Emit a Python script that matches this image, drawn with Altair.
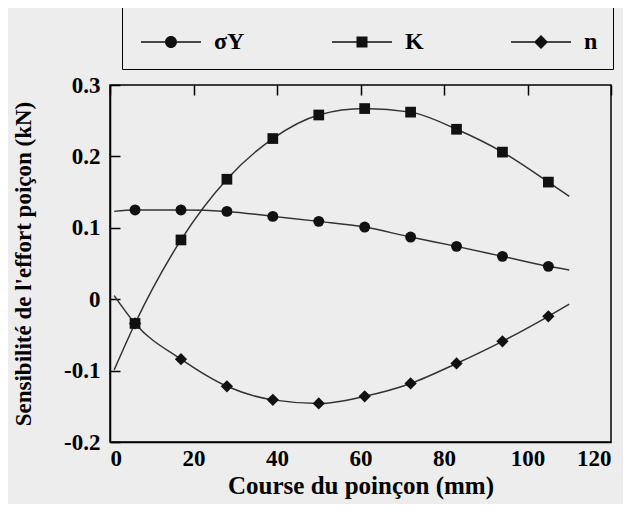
import altair as alt
import pandas as pd

# --- data ---
series_names = ["σY", "K", "n"]
series_shapes = ["circle", "square", "diamond"]
series_sizes = [120, 115, 150]
course_mm = [6, 17, 28, 39, 50, 61, 72, 83, 94, 105]
sigma_y = [0.125, 0.125, 0.123, 0.116, 0.109, 0.101, 0.087, 0.074, 0.060, 0.046]
k_vals = [-0.034, 0.083, 0.168, 0.225, 0.258, 0.267, 0.262, 0.238, 0.206, 0.164]
n_vals = [-0.034, -0.084, -0.122, -0.141, -0.146, -0.136, -0.118, -0.090, -0.059, -0.024]

# curve ends (lines extend beyond the markers)
line_start_x = 1
line_end_x = 110
sigma_ends = [0.123, 0.041]
k_ends = [-0.099, 0.144]
n_ends = [0.005, -0.007]

x_ticks = [0, 20, 40, 60, 80, 100, 120]
y_ticks = [-0.2, -0.1, 0, 0.1, 0.2, 0.3]

rows = []
for name, vals, ends in zip(series_names, [sigma_y, k_vals, n_vals], [sigma_ends, k_ends, n_ends]):
    rows.append({"course": line_start_x, "value": ends[0], "series": name, "marker": False})
    for c, v in zip(course_mm, vals):
        rows.append({"course": c, "value": v, "series": name, "marker": True})
    rows.append({"course": line_end_x, "value": ends[1], "series": name, "marker": False})
df = pd.DataFrame(rows)

FONT = "Liberation Serif"

x_enc = alt.X("course:Q", scale=alt.Scale(domain=[0, 120], nice=False),
              axis=alt.Axis(values=x_ticks, format="d", title="Course du poinçon (mm)",
                            labelPadding=5, titlePadding=3, titleFontSize=25))
y_enc = alt.Y("value:Q", scale=alt.Scale(domain=[-0.2, 0.3], nice=False),
              axis=alt.Axis(values=y_ticks, title="Sensibilité de l'effort poiçon (kN)",
                            labelExpr="datum.value == 0 ? '0' : (datum.value < 0 ? '-' + format(-datum.value, '.1f') : format(datum.value, '.1f'))",
                            labelPadding=10, titlePadding=28))

base = alt.Chart(df)

lines = base.mark_line(interpolate="monotone", color="#333333", strokeWidth=1.5).encode(
    x=x_enc, y=y_enc, detail="series:N")

point_layers = []
for name, shp, sz in zip(series_names, series_shapes, series_sizes):
    point_layers.append(
        base.transform_filter(alt.datum.marker)
        .transform_filter(alt.datum.series == name)
        .mark_point(filled=True, color="#111111", opacity=1, shape=shp, size=sz)
        .encode(x="course:Q", y="value:Q")
    )

# legend glyphs: line - marker - line, as filled unit paths (scaled 20 px per unit)
legend_paths = [
    "M-1.5,-0.0375H-0.3V0.0375H-1.5Z M0.3,-0.0375H1.5V0.0375H0.3Z M-0.3,0A0.3,0.3,0,1,1,0.3,0A0.3,0.3,0,1,1,-0.3,0Z",
    "M-1.5,-0.0375H-0.275V0.0375H-1.5Z M0.275,-0.0375H1.5V0.0375H0.275Z M-0.275,-0.275H0.275V0.275H-0.275Z",
    "M-1.5,-0.0375H-0.3V0.0375H-1.5Z M0.3,-0.0375H1.5V0.0375H0.3Z M0,-0.35L0.35,0L0,0.35L-0.35,0Z",
]

legend_layer = base.transform_filter("false").mark_point(
    filled=True, fill="#111111", opacity=1).encode(
    x="course:Q", y="value:Q",
    shape=alt.Shape("series:N", scale=alt.Scale(domain=series_names, range=legend_paths),
                    legend=alt.Legend(title=None, orient="none", legendX=12, legendY=-79,
                                      direction="horizontal", symbolSize=1600,
                                      symbolOffset=13, symbolStrokeWidth=1.5,
                                      symbolFillColor="#111111",
                                      labelFont=FONT, labelFontWeight="bold", labelFontSize=24,
                                      labelColor="black", labelOffset=22, columnPadding=83,
                                      gridAlign="each", padding=15, strokeColor="black")),
)

chart = alt.layer(lines, *point_layers, legend_layer).properties(
    width=501, height=357,
    autosize=alt.AutoSizeParams(type="none"),
    padding={"left": 102, "top": 77, "right": 12, "bottom": 62},
    background="#ededed",
).configure_view(
    stroke="black", strokeWidth=1.5, fill="#ededed"
).configure_axis(
    domainColor="black", domainWidth=1.5, ticks=False,
    grid=True, gridColor="black", gridDash=[10, 2000], gridWidth=1.5, gridOpacity=1,
    labelFont=FONT, labelFontWeight="bold", labelFontSize=23, labelColor="black",
    titleFont=FONT, titleFontWeight="bold", titleFontSize=23, titleColor="black",
)

chart.save("out.html", embed_options={"renderer": "svg", "actions": False})
